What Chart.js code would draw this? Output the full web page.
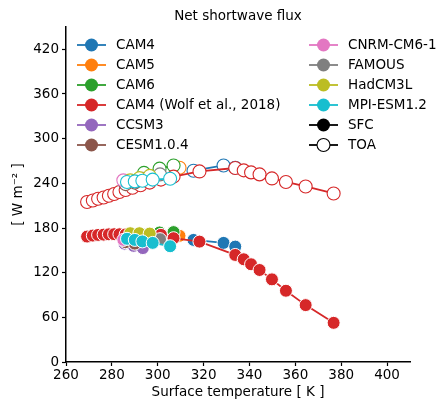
<!DOCTYPE html>
<html>
<head>
<meta charset="utf-8">
<script src="https://cdn.jsdelivr.net/npm/chart.js@4.4.0/dist/chart.umd.min.js"></script>
<style>
  html, body { margin: 0; padding: 0; background: #fff; }
</style>
</head>
<body>
<canvas id="chart" width="439" height="407"></canvas>
<script>
// values (surface temperature [K], net shortwave flux [W m-2])
var cam4T = [315.6, 328.7, 333.8];
var cam4Sfc = [164, 160, 155];
var cam4Toa = [257, 264, 261];

var cam5T = [309.5];
var cam5Sfc = [169.5];
var cam5Toa = [261];

var cam6T = [294, 300.8, 306.9];
var cam6Sfc = [171, 174, 174.5];
var cam6Toa = [254, 259.7, 264];

var wolfT = [269.2, 271.7, 274, 276.4, 278.7, 281, 283.3, 286, 289, 292.5, 296.5, 301.4, 306.9, 318.2, 333.8, 337.5, 340.7, 344.4, 349.8, 355.9, 364.5, 376.7];
var wolfSfc = [168.5, 169.8, 170.7, 171.1, 171.5, 171.7, 171.6, 171.4, 171.3, 171.1, 171, 170.8, 166.3, 161.7, 143.8, 138, 131.3, 123.6, 111, 95.7, 76.4, 52.6];
var wolfToa = [215, 217, 219.3, 221, 223.3, 225.6, 228.3, 231, 234, 237.5, 241, 245, 249, 256, 260.6, 257.4, 254.7, 252, 246.6, 241.8, 235.8, 226.4];

var ccsm3T = [285.5, 289.5, 293.5];
var ccsm3Sfc = [159, 156, 153];
var ccsm3Toa = [241, 243, 246];

var cesmT = [286, 290];
var cesmSfc = [161, 159];
var cesmToa = [239, 241];

var cnrmT = [285];
var cnrmSfc = [164];
var cnrmToa = [244];

var famousT = [301];
var famousSfc = [165];
var famousToa = [252];

var hadT = [288, 292, 296.5];
var hadSfc = [173, 173, 172.5];
var hadToa = [244, 247, 250];

var mpiT = [286.6, 290, 293.3, 297.8, 305.4];
var mpiSfc = [165.5, 164, 162, 160, 155.5];
var mpiToa = [241.8, 242.6, 243.5, 245, 246.2];

var xTicks = [260, 280, 300, 320, 340, 360, 380, 400];
var yTicks = [0, 60, 120, 180, 240, 300, 360, 420];

var models = [
    { name: 'CAM4', color: '#1f77b4', t: cam4T, sfc: cam4Sfc, toa: cam4Toa },
    { name: 'CAM5', color: '#ff7f0e', t: cam5T, sfc: cam5Sfc, toa: cam5Toa },
    { name: 'CAM6', color: '#2ca02c', t: cam6T, sfc: cam6Sfc, toa: cam6Toa },
    { name: 'CAM4 (Wolf et al., 2018)', color: '#d62728', t: wolfT, sfc: wolfSfc, toa: wolfToa },
    { name: 'CCSM3', color: '#9467bd', t: ccsm3T, sfc: ccsm3Sfc, toa: ccsm3Toa },
    { name: 'CESM1.0.4', color: '#8c564b', t: cesmT, sfc: cesmSfc, toa: cesmToa },
    { name: 'CNRM-CM6-1', color: '#e377c2', t: cnrmT, sfc: cnrmSfc, toa: cnrmToa },
    { name: 'FAMOUS', color: '#7f7f7f', t: famousT, sfc: famousSfc, toa: famousToa },
    { name: 'HadCM3L', color: '#bcbd22', t: hadT, sfc: hadSfc, toa: hadToa },
    { name: 'MPI-ESM1.2', color: '#17becf', t: mpiT, sfc: mpiSfc, toa: mpiToa }
];

var FONT = '"DejaVu Sans", sans-serif';
var FS = 13.5;

function points(t, v) {
    return t.map(function(x, i) { return { x: x, y: v[i] }; });
}

var datasets = [];
models.forEach(function(m, i) {
    // later models drawn on top, like matplotlib
    datasets.push({
        label: m.name + ' SFC',
        data: points(m.t, m.sfc),
        showLine: true,
        borderColor: m.color,
        borderWidth: 1.8,
        pointRadius: 6.5,
        pointBackgroundColor: m.color,
        pointBorderColor: '#fff',
        pointBorderWidth: 1,
        order: 100 - i
    });
    datasets.push({
        label: m.name + ' TOA',
        data: points(m.t, m.toa),
        showLine: true,
        borderColor: m.color,
        borderWidth: 1.8,
        pointRadius: 6.5,
        pointBackgroundColor: '#fff',
        pointBorderColor: m.color,
        pointBorderWidth: 1.1,
        order: 100 - i
    });
});

// legend + title drawn by hand (two columns, matplotlib style)
var legendPlugin = {
    id: 'mplLegend',
    afterDraw: function(chart) {
        var ctx = chart.ctx;
        var area = chart.chartArea;
        ctx.save();
        ctx.fillStyle = '#000';
        ctx.font = FS + 'px ' + FONT;
        ctx.textAlign = 'center';
        ctx.textBaseline = 'middle';
        ctx.fillText('Net shortwave flux', (area.left + area.right) / 2, 16);

        var entries = models.map(function(m) { return { name: m.name, color: m.color, open: false }; });
        entries.push({ name: 'SFC', color: '#000', open: false });
        entries.push({ name: 'TOA', color: '#000', open: true });
        var cols = [{ x0: 77, x1: 106, tx: 116 }, { x0: 309, x1: 338, tx: 348 }];
        entries.forEach(function(e, k) {
            var c = cols[k < 6 ? 0 : 1];
            var y = 45 + (k % 6) * 20;
            var mx = (c.x0 + c.x1) / 2;
            ctx.strokeStyle = e.color;
            ctx.lineWidth = 1.8;
            ctx.beginPath();
            ctx.moveTo(c.x0, y);
            ctx.lineTo(c.x1, y);
            ctx.stroke();
            ctx.beginPath();
            ctx.arc(mx, y, 6.5, 0, Math.PI * 2);
            ctx.fillStyle = e.open ? '#fff' : e.color;
            ctx.fill();
            if (e.open) {
                ctx.lineWidth = 1.1;
                ctx.stroke();
            }
            ctx.fillStyle = '#000';
            ctx.textAlign = 'left';
            ctx.fillText(e.name, c.tx, y + 0.5);
        });
        ctx.restore();
    }
};

var ctx = document.getElementById('chart').getContext('2d');
var chart = new Chart(ctx, {
    type: 'scatter',
    data: { datasets: datasets },
    plugins: [legendPlugin],
    options: {
        responsive: false,
        animation: false,
        layout: { padding: { top: 27, right: 29, left: 0, bottom: 0 } },
        plugins: {
            legend: { display: false },
            tooltip: { enabled: false },
            title: { display: false }
        },
        scales: {
            x: {
                type: 'linear',
                min: 260,
                max: 410,
                afterBuildTicks: function(scale) {
                    scale.ticks = xTicks.map(function(v) { return { value: v }; });
                },
                afterFit: function(scale) { scale.height = 45; },
                grid: { drawOnChartArea: false, tickLength: 4, tickWidth: 1.2, tickColor: '#000' },
                border: { color: '#000', width: 1.5 },
                ticks: { color: '#000', font: { family: FONT, size: FS }, padding: 1, maxRotation: 0 },
                title: {
                    display: true,
                    text: 'Surface temperature [ K ]',
                    color: '#000',
                    font: { family: FONT, size: FS },
                    padding: { top: 0, bottom: 6 }
                }
            },
            y: {
                type: 'linear',
                min: 0,
                max: 450,
                afterBuildTicks: function(scale) {
                    scale.ticks = yTicks.map(function(v) { return { value: v }; });
                },
                afterFit: function(scale) { scale.width = 66; },
                grid: { drawOnChartArea: false, tickLength: 4, tickWidth: 1.2, tickColor: '#000' },
                border: { color: '#000', width: 1.5 },
                ticks: { color: '#000', font: { family: FONT, size: FS }, padding: 3 },
                title: {
                    display: true,
                    text: '[ W m\u207B\u00B2 ]',
                    color: '#000',
                    font: { family: FONT, size: FS },
                    padding: { top: 10, bottom: 0 }
                }
            }
        }
    }
});
</script>
</body>
</html>
